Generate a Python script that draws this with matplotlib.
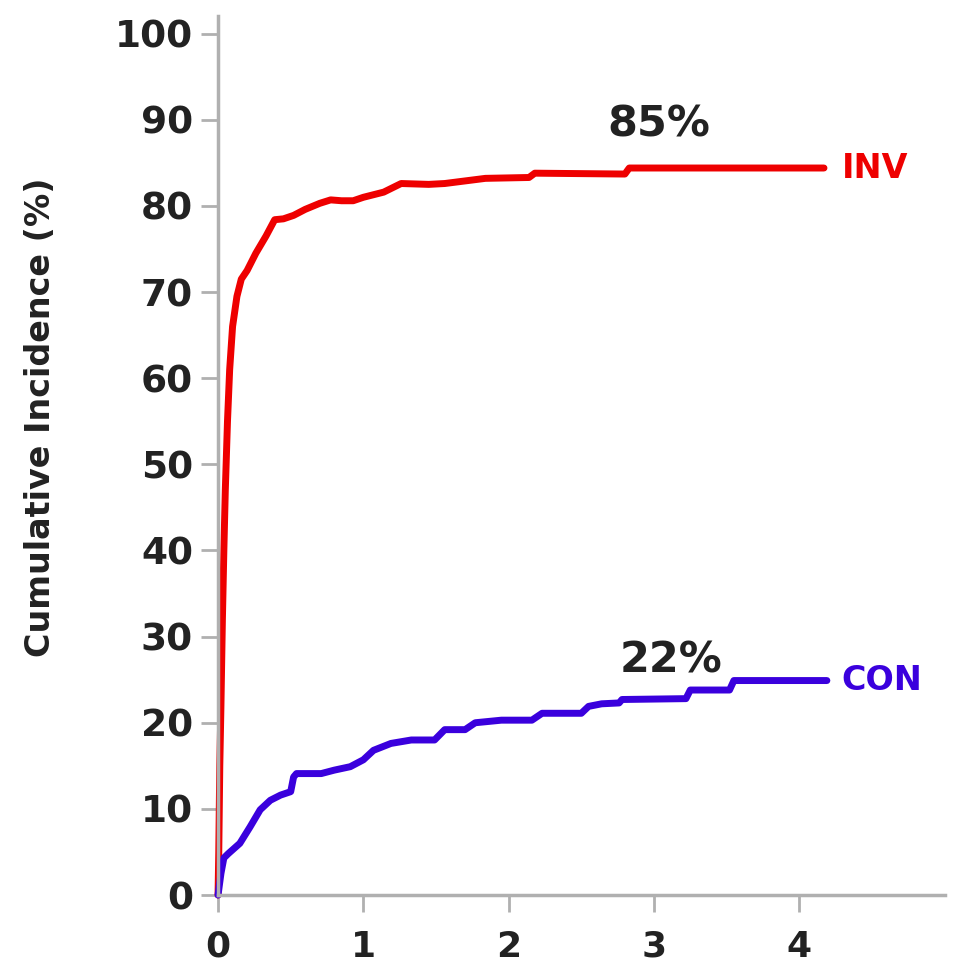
import numpy as np
import matplotlib.pyplot as plt

# INV gorbe (ido, kumulativ incidencia %)
inv_t = [0, 0.005, 0.012, 0.02, 0.03, 0.04, 0.05, 0.065, 0.08, 0.1, 0.13, 0.16, 0.2, 0.26,
         0.33, 0.39, 0.45, 0.52, 0.6, 0.7, 0.775, 0.85, 0.93, 1.0, 1.14, 1.26, 1.45, 1.56,
         1.84, 2.14, 2.18, 2.8, 2.83, 4.17]
inv_y = [0, 5, 15, 22, 32, 40, 47, 55, 61, 66, 69.5, 71.5, 72.5, 74.5,
         76.5, 78.4, 78.5, 78.9, 79.6, 80.3, 80.7, 80.6, 80.6, 81.0, 81.6, 82.6, 82.5, 82.6,
         83.2, 83.3, 83.8, 83.7, 84.4, 84.4]

# CON gorbe
con_t = [0, 0.02, 0.04, 0.07, 0.15, 0.22, 0.29, 0.36, 0.43, 0.5, 0.52, 0.54, 0.71,
         0.8, 0.91, 1.0, 1.07, 1.19, 1.33, 1.49, 1.56, 1.7, 1.77, 1.95, 2.16, 2.23, 2.5, 2.55,
         2.64, 2.76, 2.78, 3.22, 3.25, 3.52, 3.55, 4.19]
con_y = [0, 2.5, 4.3, 4.8, 6, 7.9, 9.9, 11, 11.6, 12, 13.7, 14.1, 14.1,
         14.5, 14.9, 15.7, 16.8, 17.6, 18, 18, 19.2, 19.2, 20, 20.3, 20.3, 21.1, 21.1, 21.9,
         22.2, 22.3, 22.7, 22.8, 23.8, 23.8, 24.9, 24.9]

labels = ["INV", "CON"]
percents = ["85%", "22%"]
red = "#ee0000"
blue = "#3a00dd"
grey = "#b0b0b0"
dark = "#222222"

fig = plt.figure(figsize=(9.58, 9.65), dpi=100)
ax = fig.add_axes([0.2276, 0.0725, 0.7584, 0.9105])

ax.plot(inv_t, inv_y, color=red, lw=5, clip_on=False, solid_capstyle="round", solid_joinstyle="round")
ax.plot(con_t, con_y, color=blue, lw=5, clip_on=False, solid_capstyle="round", solid_joinstyle="round")

ax.text(4.29, inv_y[-1], labels[0], color=red, fontsize=24, fontweight="bold", va="center")
ax.text(4.29, con_y[-1], labels[1], color=blue, fontsize=24, fontweight="bold", va="center")
ax.text(3.03, 89.4, percents[0], color=dark, fontsize=31, fontweight="bold", ha="center", va="center")
ax.text(3.12, 27.2, percents[1], color=dark, fontsize=31, fontweight="bold", ha="center", va="center")

ax.set_xlim(0, 5)
ax.set_ylim(0, 102)
ax.set_xticks([0, 1, 2, 3, 4])
ax.set_yticks(np.arange(0, 101, 10))

for s in ["top", "right"]:
    ax.spines[s].set_visible(False)
for s in ["left", "bottom"]:
    ax.spines[s].set_color(grey)
    ax.spines[s].set_linewidth(2.5)

ax.tick_params(axis="y", length=12, width=2, color=grey, labelsize=27, labelcolor=dark, pad=6)
ax.tick_params(axis="x", length=12, width=2, color=grey, labelsize=26, labelcolor=dark, pad=13)
for lab in ax.get_xticklabels() + ax.get_yticklabels():
    lab.set_fontweight("bold")

ax.set_ylabel("Cumulative Incidence (%)", fontsize=24, fontweight="bold", color=dark)
ax.yaxis.set_label_coords(-0.222, 0.544)

plt.savefig("out.png", dpi=100)
